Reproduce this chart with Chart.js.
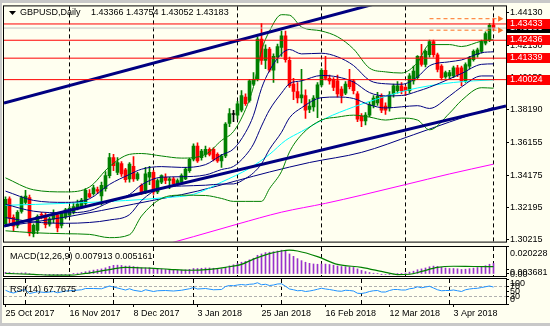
<!doctype html>
<html lang="en">
<head>
<meta charset="utf-8">
<title>GBPUSD Daily</title>
<script src="https://cdn.jsdelivr.net/npm/chart.js"></script>
<style>
  html, body { margin: 0; padding: 0; background: #c8c8c8; }
  #wrap { position: relative; width: 550px; height: 326px; overflow: hidden; background: #c8c8c8; }
  #paper { position: absolute; left: 2px; top: 3px; width: 548px; height: 320px; background: #fffff0; }
  canvas { position: absolute; left: 0; }
</style>
</head>
<body>
<div id="wrap">
  <div id="paper"></div>
  <canvas id="main" width="550" height="248" style="top:0px"></canvas>
  <canvas id="macd" width="550" height="31" style="top:246px"></canvas>
  <canvas id="rsi" width="550" height="49" style="top:277px"></canvas>
</div>
<script>
// ---- data ----
const symbolTitle = 'GBPUSD,Daily';
const ohlcText = '1.43366 1.43754 1.43052 1.43183';

const dateBars = [0, 16, 32, 48, 64, 80, 96, 112];
const dateLabels = ['25 Oct 2017', '16 Nov 2017', '8 Dec 2017', '3 Jan 2018', '25 Jan 2018', '16 Feb 2018', '12 Mar 2018', '3 Apr 2018'];
const monthBars = [5, 27, 47, 69, 89, 111];

const opens = [
  1.3120, 1.3272, 1.3160, 1.3110, 1.3195, 1.3250, 1.3280, 1.3060, 1.3080, 1.3178,
  1.3170, 1.3118, 1.3148, 1.3175, 1.3110, 1.3160, 1.3172, 1.3192, 1.3215, 1.3225,
  1.3245, 1.3305, 1.3305, 1.3330, 1.3290, 1.3335, 1.3415, 1.3525, 1.3435, 1.3488,
  1.3450, 1.3395, 1.3471, 1.3395, 1.3355, 1.3315, 1.3405, 1.3435, 1.3315, 1.3375,
  1.3405, 1.3385, 1.3395, 1.3365, 1.3375, 1.3395, 1.3445, 1.3515, 1.3595, 1.3525,
  1.3545, 1.3575, 1.3575, 1.3545, 1.3505, 1.3535, 1.3735, 1.3789, 1.3785, 1.3815,
  1.3895, 1.3875, 1.3975, 1.4005, 1.4250, 1.4120, 1.4190, 1.4060, 1.4140, 1.4200,
  1.4270, 1.4120, 1.3975, 1.3930, 1.3890, 1.3905, 1.3820, 1.3835, 1.3890, 1.3970,
  1.4060, 1.4010, 1.4005, 1.3995, 1.3945, 1.3920, 1.3995, 1.3995, 1.3915, 1.3780,
  1.3750, 1.3785, 1.3845, 1.3860, 1.3900, 1.3840, 1.3830, 1.3915, 1.3935, 1.3965,
  1.3955, 1.3935, 1.3995, 1.4015, 1.4145, 1.4095, 1.4155, 1.4235, 1.4155, 1.4085,
  1.4019, 1.4025, 1.4025, 1.4075, 1.4075, 1.3995, 1.4085, 1.4125, 1.4155, 1.4175,
  1.4225, 1.4245, 1.43366
];
const highs = [
  1.3285, 1.3285, 1.3175, 1.3200, 1.3290, 1.3325, 1.3295, 1.3120, 1.3175, 1.3190,
  1.3185, 1.3160, 1.3205, 1.3185, 1.3195, 1.3215, 1.3225, 1.3245, 1.3265, 1.3275,
  1.3335, 1.3330, 1.3355, 1.3345, 1.3375, 1.3440, 1.3551, 1.3545, 1.3525, 1.3500,
  1.3460, 1.3495, 1.3531, 1.3435, 1.3365, 1.3465, 1.3471, 1.3445, 1.3395, 1.3420,
  1.3425, 1.3405, 1.3405, 1.3395, 1.3425, 1.3465, 1.3520, 1.3610, 1.3615, 1.3575,
  1.3595, 1.3585, 1.3585, 1.3555, 1.3545, 1.3740, 1.3825, 1.3815, 1.3870, 1.3935,
  1.3915, 1.4005, 1.4045, 1.4265, 1.4345, 1.4215, 1.4200, 1.4160, 1.4220, 1.4300,
  1.4300, 1.4140, 1.4010, 1.3985, 1.4065, 1.3940, 1.3880, 1.3905, 1.3985, 1.4070,
  1.4145, 1.4030, 1.4015, 1.4030, 1.3960, 1.3990, 1.4065, 1.4005, 1.3930, 1.3795,
  1.3800, 1.3865, 1.3905, 1.3925, 1.3915, 1.3860, 1.3930, 1.3975, 1.3990, 1.3985,
  1.3965, 1.4040, 1.4085, 1.4150, 1.4219, 1.4185, 1.4245, 1.4245, 1.4165, 1.4095,
  1.4055, 1.4060, 1.4085, 1.4090, 1.4085, 1.4105, 1.4145, 1.4185, 1.4195, 1.4245,
  1.4295, 1.4345, 1.43754
];
const lows = [
  1.3105, 1.3125, 1.3075, 1.3095, 1.3185, 1.3240, 1.3045, 1.3040, 1.3060, 1.3150,
  1.3095, 1.3105, 1.3125, 1.3070, 1.3095, 1.3150, 1.3165, 1.3180, 1.3205, 1.3215,
  1.3235, 1.3280, 1.3295, 1.3305, 1.3235, 1.3320, 1.3400, 1.3445, 1.3420, 1.3410,
  1.3375, 1.3375, 1.3380, 1.3385, 1.3300, 1.3305, 1.3360, 1.3300, 1.3305, 1.3365,
  1.3365, 1.3335, 1.3355, 1.3355, 1.3365, 1.3390, 1.3435, 1.3505, 1.3495, 1.3510,
  1.3530, 1.3535, 1.3505, 1.3495, 1.3465, 1.3525, 1.3715, 1.3745, 1.3760, 1.3805,
  1.3845, 1.3865, 1.3965, 1.3995, 1.4095, 1.4070, 1.4050, 1.3985, 1.4105, 1.4145,
  1.4110, 1.3955, 1.3880, 1.3860, 1.3860, 1.3765, 1.3800, 1.3810, 1.3770, 1.3960,
  1.4000, 1.3975, 1.3935, 1.3895, 1.3860, 1.3910, 1.3945, 1.3915, 1.3745, 1.3715,
  1.3725, 1.3775, 1.3830, 1.3845, 1.3800, 1.3790, 1.3810, 1.3895, 1.3920, 1.3915,
  1.3905, 1.3920, 1.3975, 1.4005, 1.4085, 1.4080, 1.4140, 1.4140, 1.4050, 1.4000,
  1.4010, 1.4010, 1.4015, 1.4020, 1.3965, 1.3985, 1.4070, 1.4115, 1.4140, 1.4165,
  1.4215, 1.4235, 1.43052
];
const closes = [
  1.3270, 1.3155, 1.3105, 1.3190, 1.3280, 1.3290, 1.3062, 1.3110, 1.3165, 1.3172,
  1.3115, 1.3150, 1.3180, 1.3095, 1.3185, 1.3205, 1.3215, 1.3225, 1.3240, 1.3265,
  1.3325, 1.3285, 1.3340, 1.3320, 1.3355, 1.3415, 1.3525, 1.3475, 1.3495, 1.3425,
  1.3390, 1.3485, 1.3395, 1.3425, 1.3315, 1.3425, 1.3435, 1.3315, 1.3385, 1.3415,
  1.3385, 1.3395, 1.3365, 1.3385, 1.3415, 1.3455, 1.3515, 1.3595, 1.3505, 1.3565,
  1.3575, 1.3545, 1.3515, 1.3505, 1.3535, 1.3730, 1.3795, 1.3789, 1.3855, 1.3905,
  1.3855, 1.3995, 1.4005, 1.4250, 1.4120, 1.4190, 1.4060, 1.4145, 1.4205, 1.4270,
  1.4125, 1.3965, 1.3930, 1.3890, 1.3910, 1.3815, 1.3840, 1.3890, 1.3970, 1.4060,
  1.4010, 1.3995, 1.3955, 1.3915, 1.3905, 1.3975, 1.3960, 1.3935, 1.3760, 1.3750,
  1.3785, 1.3850, 1.3890, 1.3900, 1.3815, 1.3815, 1.3910, 1.3965, 1.3965, 1.3935,
  1.3935, 1.4025, 1.4055, 1.4145, 1.4095, 1.4175, 1.4235, 1.4155, 1.4065, 1.4015,
  1.4045, 1.4045, 1.4075, 1.4035, 1.3995, 1.4095, 1.4135, 1.4175, 1.4185, 1.4235,
  1.4285, 1.4335, 1.43183
];

// indicator lines as [bar, price]
const bbOuterUpper = [[0,1.3401],[7,1.3328],[15,1.3315],[21,1.3345],[26,1.3470],[31,1.3545],[34,1.3550],[39,1.3535],[44,1.3522],[50,1.3545],[54,1.3630],[57,1.3685],[60,1.3820],[62,1.3960],[64,1.4180],[66,1.4300],[69,1.4400],[71,1.4397],[74,1.4325],[79,1.4300],[83,1.4265],[87,1.4190],[91,1.4073],[95,1.4050],[99,1.4043],[103,1.4107],[106,1.4217],[111,1.4217],[114,1.4205],[119,1.4238],[122,1.4247]];
const bbOuterLower = [[0,1.3077],[7,1.3065],[15,1.3059],[21,1.3055],[26,1.3035],[31,1.3053],[34,1.3167],[39,1.3275],[44,1.3295],[50,1.3293],[54,1.3275],[57,1.3257],[60,1.3257],[62,1.3257],[64,1.3257],[66,1.3335],[69,1.3440],[71,1.3560],[74,1.3665],[79,1.3755],[83,1.3773],[87,1.3785],[91,1.3773],[95,1.3755],[99,1.3767],[103,1.3755],[106,1.3695],[111,1.3797],[114,1.3875],[119,1.3953],[122,1.3950]];
const bbMiddle = [[0,1.3239],[7,1.3197],[15,1.3187],[21,1.3200],[26,1.3252],[31,1.3299],[34,1.3358],[39,1.3405],[44,1.3408],[50,1.3419],[54,1.3452],[57,1.3471],[60,1.3538],[62,1.3608],[64,1.3718],[66,1.3817],[69,1.3920],[71,1.3978],[74,1.3995],[79,1.4028],[83,1.4019],[87,1.3988],[91,1.3923],[95,1.3903],[99,1.3905],[103,1.3931],[106,1.3956],[111,1.4007],[114,1.4040],[119,1.4096],[122,1.4099]];
const bbInnerUpper = [[0,1.3320],[7,1.3263],[15,1.3251],[21,1.3273],[26,1.3361],[31,1.3422],[34,1.3454],[39,1.3470],[44,1.3465],[50,1.3482],[54,1.3541],[57,1.3578],[60,1.3679],[62,1.3784],[64,1.3949],[66,1.4058],[69,1.4160],[71,1.4187],[74,1.4160],[79,1.4164],[83,1.4142],[87,1.4089],[91,1.3998],[95,1.3977],[99,1.3974],[103,1.4019],[106,1.4087],[111,1.4112],[114,1.4123],[119,1.4167],[122,1.4173]];
const bbInnerLower = [[0,1.3158],[7,1.3131],[15,1.3123],[21,1.3128],[26,1.3143],[31,1.3176],[34,1.3262],[39,1.3340],[44,1.3351],[50,1.3356],[54,1.3363],[57,1.3364],[60,1.3397],[62,1.3432],[64,1.3487],[66,1.3576],[69,1.3680],[71,1.3769],[74,1.3830],[79,1.3892],[83,1.3896],[87,1.3887],[91,1.3848],[95,1.3829],[99,1.3836],[103,1.3843],[106,1.3826],[111,1.3902],[114,1.3958],[119,1.4025],[122,1.4025]];
const maCyan = [[0,1.3233],[15,1.3245],[30,1.3262],[40,1.3280],[47,1.3300],[54,1.3375],[61,1.3460],[66,1.3545],[70,1.3630],[74,1.3685],[80,1.3765],[87,1.3835],[93,1.3885],[100,1.3935],[106,1.3965],[112,1.3985],[117,1.3995],[122,1.4001]];
const maSlow = [[0,1.3105],[16,1.3165],[32,1.3240],[48,1.3320],[58,1.3385],[66,1.3437],[76,1.3495],[89,1.3557],[102,1.3665],[111,1.3743],[122,1.3833]];
const maMagenta = [[38,1.2980],[47,1.3041],[58,1.3118],[69,1.3191],[80,1.3245],[89,1.3295],[100,1.3360],[111,1.3425],[122,1.3485]];

// drawn objects
const trendUpper = [[-0.375,1.3859],[125.125,1.4681]];
const trendLower = [[-0.375,1.31068],[125.125,1.38415]];
const levelPrices = [1.43433, 1.42436, 1.41339, 1.40024];
const bidPrice = 1.43183;
const rangePrices = [1.43754, 1.43052];
const rangeFromBar = 106;
const rangeToBar = 122.9;
const arrowBar = 123.6;
const priceTicks = [1.44130, 1.42130, 1.40150, 1.38190, 1.36155, 1.34175, 1.32195, 1.30215];

// MACD(12,26,9)
const macdHist = [
  0.0012, 0.0011, 0.0008, 0.0006, 0.0008, 0.0009, 0.0004, -0.0002, -0.0004, -0.0005,
  -0.0007, -0.0008, -0.0007, -0.0009, -0.0007, -0.0005, -0.0002, 0.0002, 0.0006, 0.0011,
  0.0017, 0.0023, 0.0029, 0.0033, 0.0038, 0.0046, 0.0057, 0.0065, 0.0066, 0.0064,
  0.0059, 0.0060, 0.0056, 0.0052, 0.0045, 0.0046, 0.0046, 0.0040, 0.0038, 0.0037,
  0.0034, 0.0032, 0.0029, 0.0028, 0.0029, 0.0031, 0.0035, 0.0041, 0.0041, 0.0043,
  0.0045, 0.0045, 0.0043, 0.0040, 0.0039, 0.0049, 0.0061, 0.0069, 0.0078, 0.0088,
  0.0095, 0.0106, 0.0118, 0.0140, 0.0150, 0.0160, 0.0163, 0.0167, 0.0172, 0.0178,
  0.0170, 0.0150, 0.0132, 0.0115, 0.0100, 0.0088, 0.0080, 0.0075, 0.0073, 0.0075,
  0.0074, 0.0071, 0.0066, 0.0060, 0.0056, 0.0055, 0.0053, 0.0049, 0.0038, 0.0027,
  0.0018, 0.0011, 0.0006, 0.0003, -0.0002, -0.0004, -0.0003, 0.0000, 0.0003, 0.0005,
  0.0007, 0.0014, 0.0021, 0.0032, 0.0038, 0.0045, 0.0054, 0.0059, 0.0057, 0.0050,
  0.0045, 0.0041, 0.0041, 0.0039, 0.0034, 0.0036, 0.0040, 0.0044, 0.0048, 0.0054,
  0.0062, 0.0073, 0.0079
];
const macdSignal = [[0,0.0004],[7,-0.0003],[12,-0.0009],[16,-0.0009],[20,0.0004],[23,0.0018],[27,0.0039],[30,0.0050],[36,0.0044],[41,0.0035],[46,0.0028],[51,0.0035],[55,0.0050],[59,0.0072],[62,0.0111],[66,0.0153],[69,0.0172],[71,0.0178],[73,0.0172],[78,0.0130],[83,0.0072],[89,0.0050],[95,0.0012],[98,-0.0004],[101,-0.0002],[104,0.0019],[108,0.0050],[112,0.0058],[117,0.0056],[122,0.0055]];
const macdLabels = ['0.020228', '0.003681', '0.00'];
const macdLabelValues = [0.020228, 0.003681, 0];

// RSI(14)
const rsiLine = [[0,55],[1,48],[2,44],[4,55],[5,57],[6,42],[8,49],[10,46],[12,50],[13,45],[15,52],[17,54],[19,57],[20,62],[22,62],[24,61],[26,72],[27,68],[29,60],[30,56],[31,61],[32,55],[34,50],[35,57],[37,50],[38,53],[40,54],[42,52],[44,55],[46,61],[47,66],[48,60],[50,62],[52,57],[54,58],[55,70],[56,74],[57,73],[58,76],[59,78],[60,76],[61,79],[62,80],[63,85],[64,77],[65,79],[66,74],[67,76],[68,80],[69,81],[70,71],[71,60],[72,57],[73,53],[74,54],[75,50],[76,52],[77,55],[78,59],[79,63],[80,60],[81,58],[82,55],[83,52],[84,51],[85,55],[86,54],[87,52],[88,43],[89,42],[90,45],[91,50],[92,53],[93,54],[94,48],[95,48],[96,54],[97,58],[98,58],[99,56],[100,56],[101,61],[102,63],[103,69],[104,65],[105,68],[106,71],[107,64],[108,57],[109,53],[110,54],[111,54],[112,56],[113,53],[114,50],[115,57],[116,60],[117,62],[118,63],[119,66],[120,69],[121,72],[122,67.7675]];
const rsiTicks = [0, 30, 50, 70, 100];
const rsiLevels = [30, 70];

// ---- chart setup ----
Chart.defaults.font.family = '"Liberation Sans", Arial, sans-serif';
Chart.defaults.font.size = 9;
Chart.defaults.color = '#000';
Chart.defaults.animation = false;

const X_MIN = -0.375, X_MAX = 125.125;
const pts = arr => arr.map(([x, y]) => ({x, y}));
const FONT = '9px "Liberation Sans", Arial, sans-serif';

const xHidden = { type: 'linear', min: X_MIN, max: X_MAX, offset: false, display: false };
const xMonthGrid = {
  type: 'linear', min: X_MIN, max: X_MAX, offset: false, display: true,
  afterBuildTicks: s => { s.ticks = monthBars.map(v => ({value: v})); },
  ticks: { display: false },
  grid: { color: '#000', lineWidth: 1, drawTicks: false },
  border: { display: false, dash: [4, 3] }
};
const rightAxis = (min, max, tickValues, showLabels) => ({
  type: 'linear', position: 'right', min, max,
  afterFit: s => { s.width = 44; },
  afterBuildTicks: s => { s.ticks = tickValues.map(v => ({value: v})); },
  ticks: { display: showLabels, autoSkip: false, padding: 1, callback: v => v.toFixed(5) },
  grid: { drawOnChartArea: false, drawTicks: true, tickLength: 3, tickColor: '#000', color: '#000' },
  border: { display: true, color: '#000', width: 1 }
});

const line = (data, color, width, order, extra) => Object.assign({
  type: 'line', data: pts(data), borderColor: color, borderWidth: width,
  pointRadius: 0, fill: false, cubicInterpolationMode: 'monotone', order, clip: 0
}, extra || {});

const frame = {
  id: 'frame',
  afterDraw(chart) {
    const {ctx, chartArea: a} = chart;
    ctx.save();
    ctx.strokeStyle = '#000';
    ctx.lineWidth = 1;
    ctx.strokeRect(a.left - 0.5, a.top - 0.5, a.right - a.left + 1, a.bottom - a.top + 1);
    ctx.restore();
  }
};

const baseOptions = {
  responsive: false,
  devicePixelRatio: 1,
  events: [],
  plugins: { legend: { display: false }, tooltip: { enabled: false } }
};

// ---- main price panel ----
const candleColors = opens.map((o, i) => closes[i] > o ? '#008000' : (closes[i] < o ? '#ff0000' : '#000000'));

const mainDecor = {
  id: 'mainDecor',
  afterDraw(chart) {
    const {ctx, chartArea: a, scales: {y}} = chart;
    ctx.save();
    ctx.font = FONT;
    ctx.textBaseline = 'middle';
    ctx.fillStyle = '#000';
    ctx.beginPath();
    ctx.moveTo(9, 11); ctx.lineTo(16, 11); ctx.lineTo(12.5, 15); ctx.closePath();
    ctx.fill();
    ctx.fillText(symbolTitle, 20, 13);
    ctx.fillText(ohlcText, 91, 13);
    const box = (price, bg) => {
      const py = Math.round(y.getPixelForValue(price));
      ctx.fillStyle = bg;
      ctx.fillRect(a.right + 1, py - 5, 44, 10);
      ctx.fillStyle = '#fff';
      ctx.fillText(price.toFixed(5), a.right + 4, py);
    };
    box(bidPrice, '#000');
    levelPrices.forEach(p => box(p, '#ff0000'));
    ctx.restore();
  }
};

const mainDatasets = [
  { data: highs.map((h, i) => ({x: i, y: [lows[i], h]})), backgroundColor: candleColors,
    barThickness: 1, grouped: false, order: 31, clip: 0 },
  { data: opens.map((o, i) => ({x: i, y: [o, closes[i]]})), backgroundColor: candleColors,
    barThickness: 3, minBarLength: 1, grouped: false, order: 30, clip: 0 },
  line(maMagenta, '#ff00ff', 1, 12),
  line(maSlow, '#000080', 1, 12),
  line(maCyan, '#00ffff', 1, 11),
  line(bbOuterUpper, '#008000', 1, 10),
  line(bbOuterLower, '#008000', 1, 10),
  line(bbInnerUpper, '#000080', 1, 10),
  line(bbMiddle, '#000080', 1, 10),
  line(bbInnerLower, '#000080', 1, 10),
  line(trendUpper, '#000080', 3, 3, { cubicInterpolationMode: 'default' }),
  line(trendLower, '#000080', 3, 3, { cubicInterpolationMode: 'default' }),
  line([[X_MIN, bidPrice], [X_MAX, bidPrice]], '#c0c0c0', 1, 4),
  ...levelPrices.map(p => line([[X_MIN, p], [X_MAX, p]], '#ff0000', 1, 2)),
  ...rangePrices.map(p => line([[rangeFromBar, p], [rangeToBar, p]], '#ff6f20', 1, 2, { borderDash: [4, 3] })),
  ...rangePrices.map(p => line([[arrowBar, p]], '#ff6f20', 1, 1, {
    showLine: false, pointRadius: 3.5, pointStyle: 'triangle', rotation: 90,
    pointBackgroundColor: '#ff6f20', pointBorderColor: '#ff6f20', pointBorderWidth: 0
  }))
];

new Chart(document.getElementById('main'), {
  type: 'bar',
  data: { datasets: mainDatasets },
  options: Object.assign({}, baseOptions, {
    layout: { padding: { left: 4, top: 4, right: 0, bottom: 4 } },
    scales: {
      x: xHidden,
      xg: xMonthGrid,
      y: rightAxis(1.30108, 1.44508, priceTicks, true)
    }
  }),
  plugins: [frame, mainDecor]
});

// ---- MACD panel ----
const macdDecor = {
  id: 'macdDecor',
  afterDraw(chart) {
    const {ctx, chartArea: a, scales: {y}} = chart;
    ctx.save();
    ctx.font = FONT;
    ctx.fillStyle = '#000';
    ctx.textBaseline = 'middle';
    ctx.fillText('MACD(12,26,9) 0.007913 0.005161', 10, a.top + 9.5);
    const offsets = [7, 3, 0.5];
    macdLabelValues.forEach((v, i) => {
      ctx.fillText(macdLabels[i], a.right + 4, y.getPixelForValue(v) + offsets[i]);
    });
    ctx.restore();
  }
};

new Chart(document.getElementById('macd'), {
  type: 'bar',
  data: { datasets: [
    line(macdSignal, '#008000', 1.2, 1),
    { data: macdHist.map((v, i) => ({x: i, y: v})), backgroundColor: '#9932cc',
      barThickness: 1, grouped: false, order: 2, clip: 0 }
  ]},
  options: Object.assign({}, baseOptions, {
    layout: { padding: { left: 4, top: 1, right: 0, bottom: 1 } },
    scales: {
      x: xHidden,
      xg: xMonthGrid,
      y: rightAxis(-0.0015, 0.0202, macdLabelValues, false)
    }
  }),
  plugins: [frame, macdDecor]
});

// ---- RSI panel ----
const rsiDecor = {
  id: 'rsiDecor',
  afterDraw(chart) {
    const {ctx, chartArea: a, scales: {y}} = chart;
    ctx.save();
    ctx.font = FONT;
    ctx.fillStyle = '#000';
    ctx.textBaseline = 'middle';
    ctx.fillText('RSI(14) 67.7675', 10, a.top + 11);
    rsiTicks.forEach(v => {
      ctx.textBaseline = v === 100 ? 'top' : (v === 0 ? 'bottom' : 'middle');
      ctx.fillText(String(v), a.right + 4, y.getPixelForValue(v));
    });
    ctx.restore();
  }
};

const rsiAxis = rightAxis(0, 100, rsiTicks, false);
rsiAxis.grid = {
  drawOnChartArea: true, drawTicks: true, tickLength: 3, tickColor: '#000',
  color: c => rsiLevels.includes(c.tick && c.tick.value) ? '#b0b0b0' : 'rgba(0,0,0,0)'
};
rsiAxis.border = { display: true, color: '#000', width: 1, dash: [3, 2] };

new Chart(document.getElementById('rsi'), {
  type: 'line',
  data: { datasets: [ line(rsiLine, '#1e90ff', 1, 1, { cubicInterpolationMode: 'default' }) ] },
  options: Object.assign({}, baseOptions, {
    layout: { padding: { left: 4, top: 2, right: 0, bottom: 6 } },
    scales: {
      x: {
        type: 'linear', min: X_MIN, max: X_MAX, offset: false, position: 'bottom',
        afterBuildTicks: s => { s.ticks = dateBars.map(v => ({value: v})); },
        afterFit: s => { s.height = 16; },
        ticks: { autoSkip: false, maxRotation: 0, align: 'start', padding: 1,
                 callback: v => dateLabels[dateBars.indexOf(v)] },
        grid: { drawOnChartArea: false, drawTicks: true, tickLength: 3, tickColor: '#000' },
        border: { display: false }
      },
      xg: xMonthGrid,
      y: rsiAxis
    }
  }),
  plugins: [frame, rsiDecor]
});
</script>
</body>
</html>
